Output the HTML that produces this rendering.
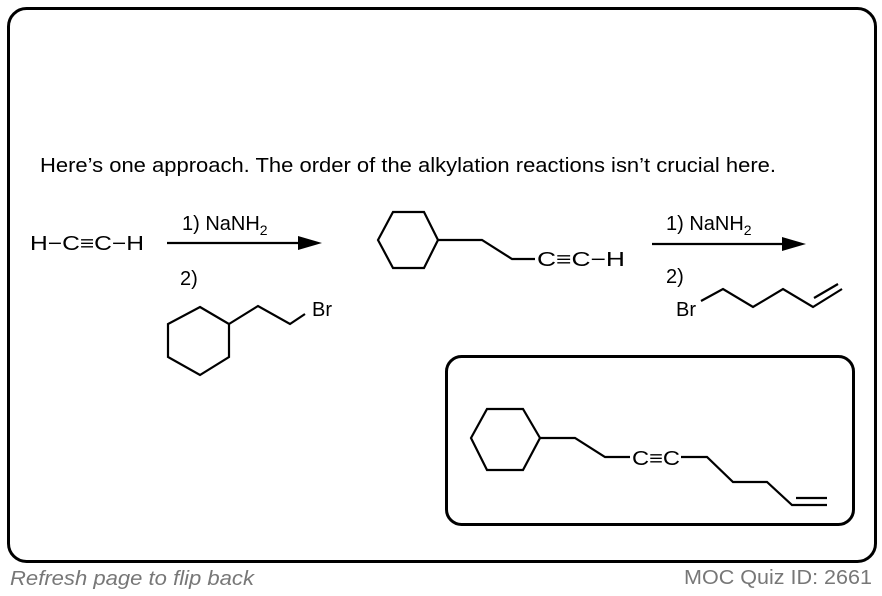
<!DOCTYPE html>
<html><head><meta charset="utf-8"><style>
html,body{margin:0;padding:0;background:#fff;}
svg{display:block;}
text{font-family:"Liberation Sans",Arial,sans-serif;}
</style></head><body>
<svg width="882" height="596" viewBox="0 0 882 596" xmlns="http://www.w3.org/2000/svg">
<rect x="8.5" y="8.5" width="867" height="553" rx="18" fill="#fff" stroke="#000" stroke-width="3"/>
<text x="40" y="172" font-size="20" fill="#000" textLength="736" lengthAdjust="spacingAndGlyphs">Here’s one approach. The order of the alkylation reactions isn’t crucial here.</text>

<g font-size="20" fill="#000">
<text x="30" y="250" textLength="114" lengthAdjust="spacingAndGlyphs">H−C≡C−H</text>
<text x="182" y="230">1) NaNH<tspan font-size="14" dy="5">2</tspan></text>
<text x="180" y="285">2)</text>
<text x="312" y="316">Br</text>
<text x="537" y="266" textLength="88" lengthAdjust="spacingAndGlyphs">C≡C−H</text>
<text x="666" y="230">1) NaNH<tspan font-size="14" dy="5">2</tspan></text>
<text x="666" y="283">2)</text>
<text x="676" y="316">Br</text>
<text x="632" y="465" textLength="48" lengthAdjust="spacingAndGlyphs">C≡C</text>
</g>

<g stroke="#000" stroke-width="2.2" fill="none" stroke-linejoin="miter">
<line x1="167" y1="243" x2="305" y2="243"/>
<line x1="652" y1="244" x2="790" y2="244"/>
<polygon points="200,307 229,324 229,357 200,375 168,357 168,324"/>
<polyline points="229,324 258,306 290,324 305,314"/>
<polygon points="378,240 393,212 424,212 438,240 424,268 393,268"/>
<polyline points="438,240 482,240 512,259 535,259"/>
<polyline points="701,301 723,289 753,307 783,289 813,307 842,289"/>
<line x1="814" y1="298" x2="838" y2="284"/>
<polygon points="487,409 523,409 540,438 523,470 487,470 471,438"/>
<polyline points="540,438 575,438 605,457 630,457"/>
<polyline points="681,457 707,457 733,482 767,482 792,505 827,505"/>
<line x1="796" y1="498" x2="827" y2="498"/>
</g>
<polygon points="322,243 298,236 298,250" fill="#000"/>
<polygon points="806,244 782,237 782,251" fill="#000"/>

<rect x="446.5" y="356.5" width="407" height="168" rx="15" fill="none" stroke="#000" stroke-width="3"/>

<text x="10" y="585" font-size="20" font-style="italic" fill="#777" textLength="244" lengthAdjust="spacingAndGlyphs">Refresh page to flip back</text>
<text x="684" y="584" font-size="20" fill="#777" textLength="188" lengthAdjust="spacingAndGlyphs">MOC Quiz ID: 2661</text>
</svg>
</body></html>
